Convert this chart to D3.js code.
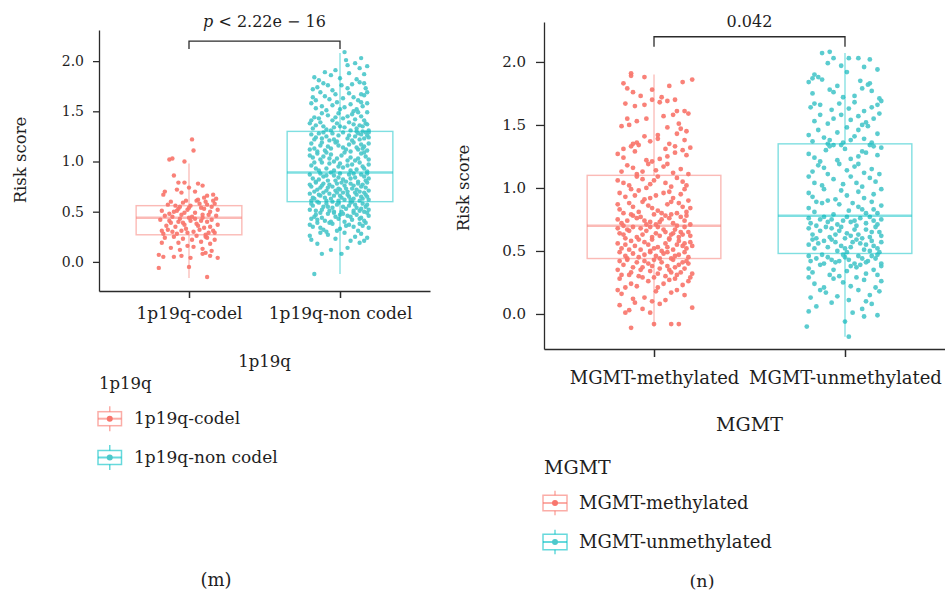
<!DOCTYPE html>
<html>
<head>
<meta charset="utf-8">
<script src="https://cdn.jsdelivr.net/npm/d3@7"></script>
<style>
  html, body { margin: 0; padding: 0; background: #fff; }
  svg { display: block; font-family: "DejaVu Serif", "Liberation Serif", serif; }
</style>
</head>
<body>
<svg id="chart" width="945" height="590"></svg>
<script>
// ---- categories and labels ----
const oneP19qGroups = ["1p19q-codel", "1p19q-non codel"];
const mgmtGroups = ["MGMT-methylated", "MGMT-unmethylated"];
const yTicks = [0, 0.5, 1, 1.5, 2];
const panelTitles = ["1p19q", "MGMT"];
const panelTags = ["(m)", "(n)"];
const pValues = ["< 2.22e \u2212 16", "0.042"];

// ---- box statistics per group: [lower whisker, Q1, median, Q3, upper whisker] ----
const oneP19qStats = [
  [-0.16, 0.27, 0.44, 0.56, 0.98],
  [-0.12, 0.60, 0.89, 1.30, 2.08]
];
const mgmtStats = [
  [-0.10, 0.44, 0.70, 1.10, 1.90],
  [-0.18, 0.48, 0.78, 1.35, 2.07]
];

// ---- jittered samples: [horizontal offset in band steps, risk score] ----
const codelPts = [
  [0.02,1.22],[0.03,1.11],[-0.13,1.02],[-0.11,1.03],[-0.03,1.00],[-0.10,0.86],[-0.07,0.79],[-0.03,0.79],[0.06,0.78],[0.09,0.76],
  [-0.08,0.72],[-0.16,0.70],[0.00,0.74],[-0.17,0.67],[0.12,0.66],[0.16,0.67],[0.10,0.64],[0.18,0.63],[-0.05,0.69],[0.04,0.70],
  [-0.12,0.60],[0.07,0.58],[-0.02,0.61],[0.15,0.55],[-0.18,0.51],[0.01,0.56],[0.11,0.60],[-0.07,0.53],[0.19,0.52],[-0.14,0.57],
  [0.04,0.49],[-0.04,0.59],[0.13,0.47],[-0.10,0.50],[0.08,0.54],[-0.16,0.46],[0.17,0.58],[-0.01,0.52],[0.05,0.61],[-0.09,0.56],
  [0.14,0.50],[-0.05,0.47],[0.10,0.53],[-0.13,0.48],[0.02,0.45],[0.18,0.46],[-0.06,0.55],[0.12,0.57],[-0.03,0.49],[0.06,0.62],
  [-0.11,0.45],[0.16,0.61],[-0.08,0.51],[0.00,0.54],[0.09,0.47],
  [-0.19,0.42],[0.05,0.38],[-0.06,0.43],[0.14,0.35],[-0.11,0.30],[0.01,0.41],[0.17,0.29],[-0.15,0.36],[0.09,0.44],[-0.02,0.33],
  [0.12,0.40],[-0.08,0.28],[0.19,0.37],[-0.13,0.41],[0.03,0.30],[-0.04,0.39],[0.07,0.32],[-0.17,0.28],[0.15,0.42],[-0.09,0.35],
  [0.00,0.44],[0.11,0.27],[-0.14,0.32],[0.06,0.36],[-0.01,0.29],[0.16,0.31],[-0.07,0.40],[0.10,0.34],[-0.18,0.31],[0.04,0.43],
  [-0.03,0.37],[0.13,0.29],[-0.12,0.39],[0.08,0.41],[-0.05,0.31],
  [-0.16,0.24],[0.08,0.20],[-0.04,0.23],[0.14,0.18],[-0.12,0.14],[0.02,0.22],[0.11,0.25],[-0.07,0.19],[0.17,0.22],[-0.01,0.16],
  [0.05,0.26],[-0.18,0.19],[0.09,0.13],[-0.10,0.25],[0.15,0.11],[-0.06,0.12],[0.03,0.15],[0.12,0.24],
  [-0.20,-0.06],[0.00,-0.05],[0.12,-0.15],[-0.20,0.07],[-0.17,0.05],[-0.10,0.05],[-0.05,0.06],[0.01,0.04],[0.09,0.08],[0.11,0.09],
  [0.14,0.06],[0.19,0.04]
];

const nonCodelPts = [
  [-0.17,-0.12],[-0.12,0.08],[0.01,0.08],[0.05,0.14],[-0.15,0.18],[0.13,0.19],[-0.06,0.12],[-0.19,0.22],[0.16,0.21],[-0.08,0.27],
  [0.10,0.25],[-0.13,0.29],[0.18,0.24],[0.03,0.29],[-0.20,0.26],[0.14,0.28],[-0.03,0.23],[0.07,0.21],
  [-0.18,0.35],[0.12,0.31],[-0.05,0.38],[0.19,0.34],[-0.11,0.32],[0.06,0.37],[-0.15,0.39],[0.15,0.36],[0.00,0.33],[-0.09,0.30],
  [0.17,0.39],[-0.20,0.37],[0.09,0.35],[-0.02,0.31],[0.13,0.38],[-0.13,0.34],[0.04,0.36],[-0.07,0.39],
  [-0.16,0.47],[0.08,0.42],[-0.03,0.45],[0.18,0.49],[-0.10,0.41],[0.02,0.48],[0.14,0.44],[-0.19,0.43],[0.11,0.47],[-0.06,0.40],
  [0.05,0.46],[-0.13,0.49],[0.16,0.41],[-0.01,0.43],[0.09,0.49],[-0.17,0.45],[0.19,0.46],[-0.08,0.48],[0.03,0.40],[-0.12,0.44],
  [0.13,0.43],[-0.04,0.49],[0.07,0.45],[0.00,0.47],[-0.15,0.42],
  [-0.20,0.52],[0.10,0.57],[-0.07,0.51],[0.17,0.55],[-0.14,0.59],[0.04,0.53],[-0.02,0.57],[0.13,0.51],[-0.11,0.55],[0.07,0.59],
  [-0.18,0.56],[0.19,0.52],[-0.05,0.54],[0.01,0.50],[0.15,0.58],[-0.09,0.58],[0.11,0.54],[-0.16,0.51],[0.06,0.56],[-0.01,0.59],
  [0.18,0.57],[-0.12,0.52],[0.02,0.55],[0.14,0.53],[-0.04,0.50],[0.09,0.51],[-0.19,0.58],[-0.08,0.55],[0.16,0.50],
  [-0.17,0.63],[0.05,0.67],[-0.09,0.61],[0.14,0.65],[-0.02,0.69],[0.19,0.62],[-0.13,0.66],[0.08,0.60],[-0.20,0.68],[0.01,0.64],
  [0.16,0.69],[-0.06,0.63],[0.11,0.67],[-0.15,0.60],[0.03,0.62],[-0.11,0.69],[0.18,0.65],[-0.04,0.66],[0.09,0.63],[-0.18,0.64],
  [0.13,0.61],[-0.07,0.68],[0.06,0.65],[-0.01,0.61],[0.15,0.63],[-0.14,0.67],[0.02,0.69],[-0.10,0.64],[0.17,0.67],[-0.05,0.60],
  [0.10,0.69],[-0.19,0.61],[0.07,0.62],[0.00,0.66],
  [-0.15,0.72],[0.09,0.76],[-0.03,0.71],[0.17,0.74],[-0.11,0.78],[0.04,0.73],[-0.19,0.75],[0.13,0.70],[-0.07,0.77],[0.01,0.79],
  [0.19,0.71],[-0.13,0.74],[0.07,0.78],[-0.01,0.73],[0.15,0.77],[-0.17,0.70],[0.11,0.72],[-0.05,0.75],[0.03,0.76],[-0.09,0.71],
  [0.18,0.79],[-0.20,0.77],[0.05,0.70],[-0.12,0.76],[0.14,0.75],[-0.02,0.78],[0.08,0.73],[-0.16,0.79],[0.12,0.78],[-0.08,0.74],
  [0.00,0.72],
  [-0.18,0.83],[0.06,0.87],[-0.08,0.81],[0.16,0.85],[-0.13,0.88],[0.02,0.82],[0.12,0.80],[-0.04,0.86],[0.19,0.83],[-0.16,0.80],
  [0.09,0.88],[-0.01,0.84],[0.14,0.87],[-0.11,0.85],[0.04,0.80],[-0.20,0.87],[0.17,0.81],[-0.06,0.89],[0.10,0.84],[-0.14,0.82],
  [0.00,0.88],[0.07,0.83],[-0.09,0.86],[0.18,0.88],[-0.03,0.81],
  [-0.16,0.93],[0.08,0.97],[-0.04,0.91],[0.15,0.95],[-0.12,0.99],[0.02,0.94],[0.18,0.90],[-0.19,0.96],[0.11,0.92],[-0.07,0.98],
  [0.05,0.96],[-0.14,0.91],[0.13,0.99],[-0.01,0.95],[0.19,0.97],[-0.09,0.93],[0.07,0.91],[-0.17,0.99],[0.16,0.93],[0.00,0.98],
  [-0.18,1.04],[0.10,1.01],[-0.06,1.07],[0.17,1.05],[-0.13,1.02],[0.03,1.09],[-0.02,1.03],[0.14,1.08],[-0.20,1.06],[0.07,1.04],
  [-0.09,1.09],[0.19,1.02],[-0.15,1.08],[0.01,1.06],[0.12,1.03],[-0.04,1.00],[0.16,1.09],[-0.11,1.05],[0.05,1.01],[-0.07,1.03],
  [-0.17,1.13],[0.06,1.17],[-0.10,1.11],[0.16,1.15],[-0.03,1.19],[0.12,1.12],[-0.19,1.18],[0.02,1.14],[0.18,1.11],[-0.13,1.16],
  [0.09,1.19],[-0.06,1.13],[0.14,1.17],[-0.15,1.10],[0.04,1.12],[-0.01,1.16],[0.19,1.18],[-0.08,1.15],[0.11,1.14],[-0.20,1.12],
  [0.07,1.10],[-0.12,1.19],[0.15,1.13],
  [-0.16,1.24],[0.12,1.28],[-0.04,1.22],[0.18,1.26],[-0.11,1.29],[0.05,1.23],[0.15,1.30],[-0.19,1.27],[0.10,1.25],[-0.07,1.21],
  [0.17,1.29],[-0.01,1.26],[0.13,1.22],[-0.14,1.28],[0.19,1.24],[0.02,1.29],[-0.09,1.25],[0.14,1.27],[-0.17,1.22],[0.08,1.21],
  [0.16,1.23],[-0.05,1.28],[0.11,1.30],[-0.12,1.23],[0.19,1.29],[0.06,1.26],[-0.02,1.20],
  [-0.18,1.33],[0.09,1.37],[-0.06,1.31],[0.15,1.35],[-0.13,1.39],[0.03,1.34],[0.19,1.31],[-0.02,1.38],[0.11,1.33],[-0.16,1.36],
  [0.06,1.39],[-0.09,1.32],[0.17,1.38],[0.00,1.35],[-0.20,1.38],[0.13,1.36],[-0.11,1.35],[0.07,1.31],[-0.04,1.34],[0.18,1.37],
  [-0.17,1.44],[0.08,1.47],[-0.05,1.41],[0.14,1.45],[-0.12,1.48],[0.02,1.43],[0.18,1.49],[-0.19,1.41],[0.10,1.42],[-0.08,1.46],
  [0.16,1.41],[-0.01,1.48],[0.05,1.45],[-0.14,1.43],[0.12,1.49],[-0.03,1.44],
  [-0.16,1.53],[0.07,1.57],[-0.09,1.51],[0.15,1.55],[-0.02,1.59],[0.11,1.52],[-0.19,1.58],[0.03,1.54],[0.18,1.58],[-0.12,1.55],
  [0.09,1.50],[-0.05,1.56],[0.14,1.59],[0.00,1.52],
  [-0.18,1.64],[0.06,1.68],[-0.07,1.62],[0.16,1.66],[-0.13,1.69],[0.02,1.63],[0.12,1.61],[-0.03,1.67],[0.18,1.69],[-0.10,1.65],
  [0.09,1.64],[-0.16,1.61],[0.14,1.67],
  [-0.15,1.74],[0.08,1.77],[-0.05,1.71],[0.17,1.73],[-0.11,1.78],[0.01,1.76],[0.13,1.79],[-0.18,1.72],[0.05,1.73],[-0.08,1.76],
  [0.16,1.78],
  [-0.17,1.84],[-0.14,1.81],[-0.06,1.86],[0.00,1.83],[0.06,1.88],[0.11,1.82],[0.16,1.87],[-0.10,1.89],
  [0.13,1.93],[0.18,1.95],[0.10,1.98],[-0.03,1.91],[0.05,1.96],[0.03,2.09],[0.14,2.03],[0.04,2.01]
];

const methylatedPts = [
  [-0.12,-0.11],[0.00,-0.08],[0.09,-0.08],[0.13,-0.08],
  [-0.18,0.07],[-0.15,0.01],[-0.13,0.03],[-0.06,0.04],[-0.02,0.01],[0.20,0.05],[0.03,0.08],[-0.10,0.09],
  [-0.17,0.16],[-0.05,0.13],[0.01,0.18],[0.06,0.11],[0.12,0.19],[-0.11,0.12],[0.16,0.15],[-0.01,0.10],[0.09,0.17],[-0.19,0.19],
  [-0.18,0.28],[-0.12,0.24],[-0.06,0.29],[0.02,0.21],[0.08,0.27],[0.15,0.23],[0.19,0.29],[-0.15,0.21],[-0.03,0.26],[0.05,0.24],
  [0.11,0.28],[0.18,0.26],[-0.09,0.22],[0.00,0.29],
  [-0.17,0.31],[0.07,0.38],[-0.05,0.42],[0.14,0.33],[-0.11,0.37],[0.02,0.32],[0.18,0.40],[-0.19,0.35],[0.10,0.43],[-0.08,0.30],
  [0.04,0.41],[-0.14,0.43],[0.16,0.36],[-0.02,0.34],[0.12,0.31],[-0.16,0.39],[0.08,0.35],[-0.06,0.37],[0.20,0.32],[0.00,0.43],
  [-0.12,0.33],[0.13,0.39],[-0.03,0.40],[0.06,0.30],[-0.18,0.42],[0.17,0.42],[-0.09,0.41],[0.03,0.36],[0.11,0.37],[-0.01,0.38],
  [0.15,0.41],[-0.13,0.31],[0.09,0.33],[-0.07,0.35],
  [-0.15,0.46],[0.05,0.48],[-0.08,0.45],[0.13,0.47],[-0.02,0.49],[0.18,0.45],[-0.18,0.49],[0.09,0.44],[-0.11,0.48],[0.01,0.46],
  [0.16,0.49],[-0.05,0.47],[0.11,0.46],[-0.14,0.44],[0.03,0.44],[0.07,0.49],
  [-0.17,0.52],[0.06,0.56],[-0.07,0.51],[0.15,0.54],[-0.12,0.58],[0.02,0.53],[0.19,0.57],[-0.03,0.55],[0.10,0.51],[-0.19,0.56],
  [0.08,0.59],[-0.10,0.54],[0.13,0.58],[-0.01,0.59],[0.17,0.52],[-0.15,0.55],[0.04,0.50],[-0.05,0.57],[0.12,0.55],[-0.08,0.59],
  [0.00,0.52],[0.16,0.56],[-0.13,0.51],[0.07,0.53],[-0.02,0.50],[0.20,0.54],
  [-0.16,0.63],[0.05,0.67],[-0.09,0.61],[0.14,0.65],[-0.02,0.69],[0.19,0.62],[-0.13,0.66],[0.08,0.60],[-0.19,0.68],[0.01,0.64],
  [0.16,0.69],[-0.06,0.63],[0.11,0.67],[-0.15,0.60],[0.03,0.62],[-0.11,0.69],[0.18,0.65],[-0.04,0.66],[0.09,0.63],[-0.18,0.64],
  [0.13,0.61],[-0.07,0.68],[0.06,0.65],[-0.01,0.61],[0.15,0.63],[-0.14,0.67],[0.02,0.69],[0.10,0.64],
  [-0.17,0.72],[0.08,0.76],[-0.04,0.71],[0.16,0.74],[-0.11,0.78],[0.03,0.73],[-0.19,0.75],[0.12,0.70],[-0.07,0.77],[0.00,0.79],
  [0.19,0.71],[-0.14,0.74],[0.06,0.78],[-0.02,0.73],[0.14,0.77],[-0.16,0.70],[0.10,0.72],[-0.09,0.76],[0.04,0.75],[-0.12,0.79],
  [0.17,0.78],[-0.05,0.74],[0.01,0.71],[0.09,0.79],
  [-0.18,0.83],[0.07,0.87],[-0.08,0.81],[0.15,0.85],[-0.13,0.88],[0.02,0.82],[0.12,0.80],[-0.03,0.86],[0.19,0.84],[-0.16,0.80],
  [0.09,0.89],[-0.01,0.84],[0.13,0.88],[-0.11,0.85],[0.04,0.80],[-0.06,0.89],[0.17,0.81],[-0.19,0.87],
  [-0.15,0.93],[0.08,0.97],[-0.05,0.91],[0.14,0.95],[-0.12,0.99],[0.01,0.94],[0.18,0.90],[-0.18,0.96],[0.10,0.92],[-0.08,0.98],
  [0.05,0.96],[-0.02,0.92],[0.16,0.99],[-0.10,0.94],
  [-0.16,1.04],[0.09,1.01],[-0.06,1.07],[0.15,1.05],[-0.13,1.02],[0.02,1.09],[-0.02,1.03],[0.12,1.08],[-0.19,1.06],[0.06,1.04],
  [-0.09,1.09],[0.17,1.02],[0.00,1.06],[-0.04,1.00],
  [-0.17,1.13],[0.05,1.17],[-0.09,1.11],[0.14,1.15],[-0.03,1.19],[0.10,1.12],[-0.14,1.18],[0.01,1.14],[0.18,1.11],[-0.11,1.16],
  [0.07,1.19],[-0.06,1.13],
  [-0.16,1.24],[0.11,1.28],[-0.04,1.22],[0.17,1.26],[-0.10,1.29],[0.03,1.23],[0.15,1.30],[-0.19,1.27],[0.07,1.25],[-0.01,1.21],
  [-0.11,1.35],[-0.09,1.36],[-0.08,1.34],[-0.12,1.33],[0.06,1.31],[-0.02,1.37],[0.11,1.33],[0.16,1.38],[-0.16,1.31],[0.02,1.39],
  [0.08,1.35],[0.19,1.32],
  [-0.17,1.49],[0.12,1.43],[-0.05,1.41],[0.17,1.45],[0.14,1.47],[0.02,1.42],[-0.13,1.50],[0.07,1.48],
  [-0.09,1.53],[0.05,1.57],[0.13,1.51],[-0.14,1.55],[0.18,1.59],[-0.04,1.55],[0.10,1.58],
  [-0.15,1.67],[-0.05,1.66],[0.03,1.68],[-0.01,1.70],[0.07,1.69],[0.12,1.61],[0.16,1.61],[-0.10,1.65],
  [-0.14,1.79],[-0.11,1.76],[-0.07,1.73],[0.04,1.72],[0.11,1.70],[-0.01,1.78],
  [-0.12,1.91],[-0.12,1.89],[-0.16,1.83],[0.20,1.86],[0.15,1.84],[-0.05,1.88],[0.08,1.81]
];

const unmethylatedPts = [
  [-0.20,-0.10],[0.02,-0.18],[0.00,-0.06],[0.17,-0.01],[0.10,-0.02],
  [-0.19,0.02],[-0.15,0.06],[0.09,0.04],[0.14,0.08],[-0.07,0.09],[0.04,0.01],
  [-0.18,0.13],[-0.10,0.17],[0.02,0.11],[0.07,0.19],[0.13,0.15],[-0.04,0.14],[0.18,0.18],[-0.13,0.19],[0.11,0.10],
  [-0.16,0.24],[-0.06,0.28],[0.03,0.22],[0.10,0.27],[0.16,0.21],[-0.11,0.21],[0.06,0.29],[-0.01,0.25],[0.19,0.26],[-0.19,0.29],
  [-0.17,0.33],[0.06,0.37],[-0.08,0.31],[0.15,0.35],[-0.13,0.39],[0.01,0.34],[0.19,0.38],[-0.03,0.30],[0.11,0.32],[-0.19,0.36],
  [0.08,0.39],[-0.06,0.35],[0.17,0.31],[0.03,0.38],
  [-0.18,0.42],[0.07,0.46],[-0.05,0.41],[0.16,0.44],[-0.12,0.47],[0.02,0.43],[0.19,0.40],[-0.09,0.45],[0.12,0.42],[-0.15,0.44],
  [0.05,0.40],[-0.01,0.47],[0.14,0.46],[-0.07,0.43],[0.09,0.44],[-0.19,0.46],[0.17,0.47],[-0.03,0.42],[0.11,0.41],[-0.11,0.40],
  [0.00,0.45],
  [-0.16,0.52],[0.08,0.56],[-0.04,0.50],[0.15,0.54],[-0.11,0.58],[0.03,0.53],[0.19,0.57],[-0.19,0.55],[0.10,0.51],[-0.07,0.59],
  [0.01,0.49],[0.17,0.52],[-0.14,0.56],[0.06,0.59],[-0.02,0.54],[0.13,0.50],[-0.09,0.53],[0.04,0.57],[0.18,0.49],[-0.17,0.59],
  [0.11,0.55],[-0.05,0.57],[0.00,0.52],[0.14,0.58],
  [-0.17,0.63],[0.05,0.67],[-0.08,0.61],[0.14,0.65],[-0.02,0.69],[0.19,0.62],[-0.13,0.66],[0.09,0.60],[-0.19,0.68],[0.01,0.64],
  [0.16,0.69],[-0.05,0.63],[0.11,0.67],[-0.15,0.60],[0.03,0.62],[-0.10,0.69],[0.18,0.65],[0.07,0.63],[-0.03,0.66],[0.13,0.61],
  [-0.07,0.68],[0.00,0.60],
  [-0.18,0.72],[0.08,0.76],[-0.04,0.71],[0.15,0.74],[-0.11,0.77],[0.03,0.73],[0.19,0.75],[-0.15,0.70],[0.11,0.72],[-0.07,0.75],
  [0.01,0.77],[0.17,0.71],[-0.19,0.76],[0.06,0.70],[-0.01,0.74],[0.13,0.77],[-0.09,0.73],[0.05,0.74],[-0.13,0.75],
  [-0.16,0.81],[0.07,0.85],[-0.06,0.79],[0.15,0.83],[-0.12,0.88],[0.02,0.82],[0.19,0.86],[-0.19,0.84],[0.11,0.80],[-0.03,0.87],
  [0.14,0.89],[-0.09,0.90],[0.04,0.88],[-0.15,0.89],[0.09,0.83],[0.17,0.80],
  [-0.17,0.93],[0.07,0.97],[-0.05,0.91],[0.15,0.95],[-0.11,0.99],[0.01,0.94],[0.19,0.99],[-0.19,0.96],[0.10,0.92],[-0.02,0.98],
  [-0.16,1.04],[0.09,1.01],[-0.06,1.07],[0.16,1.05],[-0.12,1.02],[0.03,1.09],[-0.01,1.03],[0.13,1.08],[-0.19,1.09],[0.06,1.04],
  [-0.17,1.13],[0.05,1.17],[-0.09,1.11],[0.14,1.15],[-0.03,1.19],[0.10,1.12],[-0.14,1.18],[0.01,1.14],[0.18,1.11],[-0.11,1.16],
  [0.07,1.19],
  [-0.16,1.24],[0.11,1.28],[-0.04,1.22],[0.17,1.26],[-0.10,1.30],[0.03,1.23],[0.15,1.33],[-0.19,1.27],[0.07,1.25],[-0.02,1.34],
  [-0.08,1.33],[-0.09,1.35],[-0.06,1.34],[0.13,1.34],[0.19,1.32],[0.00,1.31],[-0.13,1.21],[0.09,1.29],
  [-0.17,1.37],[0.05,1.41],[-0.08,1.38],[0.14,1.36],[-0.04,1.44],[0.10,1.39],[-0.14,1.46],[0.01,1.48],[0.17,1.43],[-0.11,1.40],
  [0.07,1.46],[-0.01,1.36],[0.12,1.49],[-0.19,1.42],[0.03,1.38],
  [-0.16,1.53],[0.07,1.57],[-0.09,1.51],[0.15,1.55],[-0.02,1.58],[0.11,1.52],[-0.13,1.58],[0.03,1.54],[0.18,1.59],[-0.06,1.55],
  [0.09,1.50],
  [-0.18,1.64],[-0.16,1.67],[-0.13,1.66],[0.05,1.68],[-0.07,1.62],[0.17,1.66],[0.14,1.64],[0.02,1.63],[0.10,1.61],[-0.03,1.67],
  [0.19,1.69],
  [-0.08,1.78],[-0.06,1.76],[0.05,1.73],[0.14,1.77],[-0.17,1.75],[0.09,1.79],[-0.01,1.72],[0.18,1.71],
  [-0.19,1.84],[-0.17,1.87],[-0.14,1.88],[-0.12,1.86],[0.08,1.85],[0.12,1.82],[0.13,1.83],[-0.04,1.81],
  [-0.12,2.07],[-0.08,2.08],[-0.09,1.99],[-0.06,2.03],[0.02,2.03],[0.07,2.03],[0.13,2.02],[0.17,1.94],[0.01,1.92],[-0.16,1.90],
  [0.10,1.96],[-0.02,1.97]
];

// ---- styling ----
const groupColors = ["#F8766D", "#00BFC4"];
const pointColors = ["#F8766D", "#4DC8CB"];
const inkColor = "#1e1e1e";
const axisColor = "#2b2b2b";
const bracketY = 2.2;      // height of the comparison bracket (score units)
const bracketTip = 0.08;   // length of its down-ticks

const svg = d3.select("#chart");

const panels = [
  {
    groups: oneP19qGroups, points: [codelPts, nonCodelPts], stats: oneP19qStats,
    title: panelTitles[0], tag: panelTags[0], pText: pValues[0], italicP: true,
    xRange: [99, 430], pad: 0.596, yDomain: [-0.29, 2.31], yRange: [291, 30],
    r: 2.2, yTick: 6, yPad: 9, xTick: 7, xPad: 9,
    tickFont: 14, catFont: 17, yTitleFont: 16.5, titleFont: 16.5, legTitleFont: 16.5, legFont: 17, pFont: 16, tagFont: 18,
    yTitle: [26, 160], xTitleY: 367, pY: 26.5,
    legX: 98, legTitleY: 389, legKeyW: 23.5, legKeyH: 14, legWhisk: 25, legKeyY: [418.7, 457.5], legTextX: 134, legTextY: [424, 463],
    tagPos: [216, 586]
  },
  {
    groups: mgmtGroups, points: [methylatedPts, unmethylatedPts], stats: mgmtStats,
    title: panelTitles[1], tag: panelTags[1], pText: pValues[1], italicP: false,
    xRange: [544, 955], pad: 0.576, yDomain: [-0.278, 2.317], yRange: [349, 22],
    r: 2.4, yTick: 8, yPad: 10, xTick: 8, xPad: 14,
    tickFont: 15, catFont: 18, yTitleFont: 16.5, titleFont: 19, legTitleFont: 19, legFont: 18, pFont: 16, tagFont: 17.5,
    yTitle: [469, 188], xTitleY: 430.5, pY: 26.5,
    legX: 543, legTitleY: 474, legKeyW: 24, legKeyH: 15.5, legWhisk: 24.5, legKeyY: [503, 542], legTextX: 579, legTextY: [509, 548],
    tagPos: [702, 587]
  }
];

panels.forEach(drawPanel);

function drawPanel(p) {
  const g = svg.append("g");
  const x = d3.scalePoint().domain(p.groups).range(p.xRange).padding(p.pad);
  const y = d3.scaleLinear().domain(p.yDomain).range(p.yRange);
  const step = x.step();
  const halfBox = step * 0.35;

  // jittered observations
  p.points.forEach((pts, i) => {
    g.append("g")
      .selectAll("circle")
      .data(pts)
      .join("circle")
      .attr("cx", d => x(p.groups[i]) + d[0] * step)
      .attr("cy", d => y(d[1]))
      .attr("r", p.r)
      .attr("fill", pointColors[i])
      .attr("fill-opacity", 0.92);
  });

  // box-and-whisker summaries
  p.stats.forEach((s, i) => {
    const cx = x(p.groups[i]);
    const bg = g.append("g")
      .attr("stroke", groupColors[i])
      .attr("stroke-opacity", 0.5)
      .attr("fill", "none");
    bg.append("line").attr("x1", cx).attr("x2", cx).attr("y1", y(s[0])).attr("y2", y(s[1])).attr("stroke-width", 1.3);
    bg.append("line").attr("x1", cx).attr("x2", cx).attr("y1", y(s[3])).attr("y2", y(s[4])).attr("stroke-width", 1.3);
    bg.append("rect")
      .attr("x", cx - halfBox).attr("width", halfBox * 2)
      .attr("y", y(s[3])).attr("height", y(s[1]) - y(s[3]))
      .attr("stroke-width", 1.4);
    bg.append("line")
      .attr("x1", cx - halfBox).attr("x2", cx + halfBox)
      .attr("y1", y(s[2])).attr("y2", y(s[2]))
      .attr("stroke-width", 2.4);
  });

  // axes
  const yAxis = d3.axisLeft(y)
    .tickValues(yTicks)
    .tickFormat(d3.format(".1f"))
    .tickSize(p.yTick)
    .tickSizeOuter(0)
    .tickPadding(p.yPad);
  const yg = g.append("g").attr("transform", `translate(${p.xRange[0]},0)`).call(yAxis);
  yg.select(".domain").attr("stroke", axisColor).attr("stroke-width", 1.3);
  yg.selectAll(".tick line").attr("stroke", axisColor).attr("stroke-width", 1.3);
  yg.selectAll(".tick text")
    .attr("fill", inkColor)
    .style("font-family", "DejaVu Serif")
    .style("font-size", p.tickFont + "px");

  const xAxis = d3.axisBottom(x)
    .tickSize(p.xTick)
    .tickSizeOuter(0)
    .tickPadding(p.xPad);
  const xg = g.append("g").attr("transform", `translate(0,${p.yRange[0]})`).call(xAxis);
  xg.select(".domain").attr("stroke", axisColor).attr("stroke-width", 1.3);
  xg.selectAll(".tick line").attr("stroke", axisColor).attr("stroke-width", 1.5);
  xg.selectAll(".tick text")
    .attr("fill", inkColor)
    .style("font-family", "DejaVu Serif")
    .style("font-size", p.catFont + "px");

  // axis titles
  g.append("text")
    .attr("transform", `translate(${p.yTitle[0]},${p.yTitle[1]}) rotate(-90)`)
    .attr("text-anchor", "middle")
    .attr("fill", inkColor)
    .style("font-size", p.yTitleFont + "px")
    .text("Risk score");

  g.append("text")
    .attr("x", (p.xRange[0] + p.xRange[1]) / 2)
    .attr("y", p.xTitleY)
    .attr("text-anchor", "middle")
    .attr("fill", inkColor)
    .style("font-size", p.titleFont + "px")
    .text(p.title);

  // comparison bracket and its label
  const x0 = x(p.groups[0]), x1 = x(p.groups[1]);
  g.append("path")
    .attr("d", `M${x0},${y(bracketY - bracketTip)}V${y(bracketY)}H${x1}V${y(bracketY - bracketTip)}`)
    .attr("fill", "none")
    .attr("stroke", axisColor)
    .attr("stroke-width", 1.3);
  const pt = g.append("text")
    .attr("x", (x0 + x1) / 2)
    .attr("y", p.pY)
    .attr("text-anchor", "middle")
    .attr("fill", inkColor)
    .style("font-size", p.pFont + "px");
  if (p.italicP) {
    pt.append("tspan").style("font-style", "italic").text("p");
    pt.append("tspan").text(" " + p.pText);
  } else {
    pt.text(p.pText);
  }

  // legend
  g.append("text")
    .attr("x", p.legX + 1)
    .attr("y", p.legTitleY)
    .attr("fill", inkColor)
    .style("font-size", p.legTitleFont + "px")
    .text(p.title);

  p.groups.forEach((name, i) => {
    const cy = p.legKeyY[i];
    const kx = p.legX + p.legKeyW / 2;
    const key = g.append("g");
    const kb = key.append("g")
      .attr("stroke", groupColors[i])
      .attr("stroke-opacity", 0.6)
      .attr("fill", "none")
      .attr("stroke-width", 1.5);
    kb.append("line").attr("x1", kx).attr("x2", kx).attr("y1", cy - p.legWhisk / 2).attr("y2", cy - p.legKeyH / 2);
    kb.append("line").attr("x1", kx).attr("x2", kx).attr("y1", cy + p.legKeyH / 2).attr("y2", cy + p.legWhisk / 2);
    kb.append("rect")
      .attr("x", p.legX).attr("y", cy - p.legKeyH / 2)
      .attr("width", p.legKeyW).attr("height", p.legKeyH);
    kb.append("line")
      .attr("x1", p.legX).attr("x2", p.legX + p.legKeyW)
      .attr("y1", cy).attr("y2", cy)
      .attr("stroke-width", 2);
    key.append("circle")
      .attr("cx", kx).attr("cy", cy).attr("r", 3)
      .attr("fill", pointColors[i]);

    g.append("text")
      .attr("x", p.legTextX)
      .attr("y", p.legTextY[i])
      .attr("fill", inkColor)
      .style("font-size", p.legFont + "px")
      .text(name);
  });

  // panel tag
  g.append("text")
    .attr("x", p.tagPos[0])
    .attr("y", p.tagPos[1])
    .attr("text-anchor", "middle")
    .attr("fill", inkColor)
    .style("font-size", p.tagFont + "px")
    .text(p.tag);
}
</script>
</body>
</html>
